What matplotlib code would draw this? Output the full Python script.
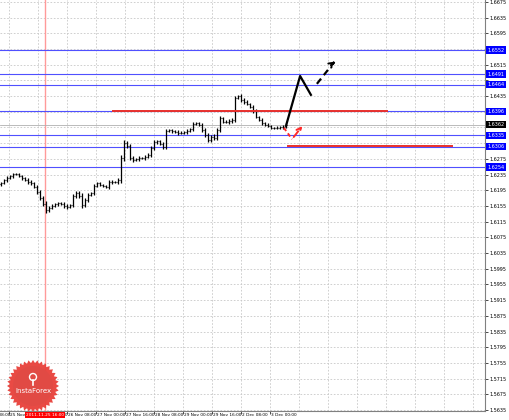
"""
GBPUSD H1 - grafik bar ala MT4 dengan level support/resistance dan proyeksi arah
"""

import numpy as np
import matplotlib.pyplot as plt
from matplotlib.patches import Polygon, Circle

# --- data harga (close per bar, open = close bar sebelumnya) ---
closes = [
    1.6213, 1.6221, 1.6226, 1.6231, 1.6236, 1.6236, 1.6231, 1.6226, 1.6221, 1.6216,
    1.6213, 1.6203, 1.6190, 1.6175, 1.6160, 1.6145, 1.6150, 1.6155, 1.6160, 1.6162,
    1.6160, 1.6155, 1.6152, 1.6157, 1.6180, 1.6188, 1.6180, 1.6157, 1.6170, 1.6183,
    1.6188, 1.6206, 1.6213, 1.6208, 1.6206, 1.6203, 1.6216, 1.6216, 1.6216, 1.6221,
    1.6277, 1.6315, 1.6308, 1.6277, 1.6272, 1.6274, 1.6277, 1.6277, 1.6280, 1.6285,
    1.6302, 1.6318, 1.6320, 1.6313, 1.6305, 1.6346, 1.6348, 1.6346, 1.6343, 1.6341,
    1.6341, 1.6343, 1.6346, 1.6351, 1.6364, 1.6366, 1.6361, 1.6348, 1.6336, 1.6323,
    1.6331, 1.6328, 1.6348, 1.6379, 1.6369, 1.6369, 1.6371, 1.6374, 1.6430, 1.6435,
    1.6425, 1.6420, 1.6415, 1.6407, 1.6397, 1.6382, 1.6374, 1.6366, 1.6361, 1.6359,
    1.6354, 1.6354, 1.6354, 1.6356, 1.6356, 1.6362,
]
# panjang ekor (pip) di atas/bawah badan bar
wicks = [
    4, 3, 5, 3, 4, 2, 3, 4, 3, 5,
    4, 3, 5, 6, 4, 7, 5, 4, 3, 4,
    3, 5, 4, 3, 6, 5, 4, 8, 5, 4,
    3, 5, 4, 3, 4, 3, 4, 5, 3, 6,
    8, 7, 6, 5, 4, 3, 4, 3, 5, 4,
    6, 5, 4, 3, 5, 4, 3, 4, 3, 5,
    4, 3, 4, 3, 5, 4, 3, 5, 6, 5,
    4, 6, 5, 4, 3, 4, 6, 5, 4, 3,
    4, 5, 4, 3, 5, 4, 3, 4, 3, 4,
    3, 3, 4, 3, 4, 3,
]

# level horizontal (biru) di sumbu kanan
blue_levels = [1.6552, 1.6491, 1.6464, 1.6396, 1.6335, 1.6306, 1.6254]

# garis merah: (bar awal, bar akhir, harga)
red_lines = [(37.3, 128.7, 1.6397), (95.7, 150.3, 1.6308)]

# proyeksi hitam (solid lalu putus-putus) dan skenario alternatif merah
proj_solid_x = [95.0, 99.7, 103.3]
proj_solid_y = [1.6359, 1.6486, 1.6438]
proj_dash_x = [105.3, 112.3]
proj_dash_y = [1.6466, 1.6527]
alt_x = [94.3, 97.0, 101.0]
alt_y = [1.6354, 1.6325, 1.6364]

# sumbu waktu
tick_idx = [-6.7, 2.7, 12.3, 22.0, 31.7, 41.3, 51.0, 60.7, 70.3, 80.0, 89.7]
tick_labels = ["24 Nov 08:00", "25 Nov 00:00", "25 Nov 16:00", "26 Nov 08:00",
               "27 Nov 00:00", "27 Nov 16:00", "28 Nov 08:00", "29 Nov 00:00",
               "29 Nov 16:00", "2 Dec 08:00", "3 Dec 00:00"]
marker_idx = 14.67
marker_label = "2011.11.25 16:00"

# skala harga sumbu kanan
price_ticks = [round(1.5635 + 0.004 * k, 4) for k in range(27)]

FS = 3.5   # font label harga
FSX = 3.1  # font label waktu

W, H = 510, 420
fig = plt.figure(figsize=(W / 100, H / 100), dpi=100)
fig.patch.set_facecolor("white")
ax = fig.add_axes([0, 9 / H, 485 / W, 411 / H])

ax.set_xlim(-0.333, 161.33)
ax.set_ylim(1.56325, 1.66796)

# grid putus-putus
grid_x = tick_idx[1:] + [tick_idx[-1] + 9.67 * k for k in range(1, 8)]
for gx in grid_x:
    ax.axvline(gx, color="#c8c8c8", lw=0.6, ls=(0, (2, 2)), zorder=0)
for gy in price_ticks:
    ax.axhline(gy, color="#c8c8c8", lw=0.6, ls=(0, (2, 2)), zorder=0)

# garis penanda waktu (merah muda)
ax.axvline(marker_idx, color="#ff9a9a", lw=1.0, zorder=1)

# level biru
for lv in blue_levels:
    ax.axhline(lv, color="#5050ff", lw=0.8, zorder=1)

# garis harga terakhir
ax.axhline(closes[-1], color="#b0b0b0", lw=0.6, zorder=1)

# bar OHLC
c = np.array(closes)
o = np.concatenate([[c[0] - 0.0003], c[:-1]])
w = np.array(wicks) / 10000.0
hi = np.maximum(o, c) + w
lo = np.minimum(o, c) - w
x = np.arange(len(c))
ax.vlines(x, lo, hi, color="black", lw=0.9, zorder=3)
ax.hlines(o, x - 0.45, x, color="black", lw=0.8, zorder=3)
ax.hlines(c, x, x + 0.45, color="black", lw=0.8, zorder=3)

# garis merah support/resistance
for x0, x1, pr in red_lines:
    ax.plot([x0, x1], [pr, pr], color="#e8302c", lw=1.4, zorder=4)

# proyeksi
ax.plot(proj_solid_x, proj_solid_y, color="black", lw=1.6, zorder=5)
ax.plot(proj_dash_x[:1] + [proj_dash_x[1] - 1.2], proj_dash_y[:1] + [proj_dash_y[1] - 0.0005],
        color="black", lw=1.6, ls=(0, (3, 2)), zorder=5)
ax.annotate("", xy=(proj_dash_x[1], proj_dash_y[1]),
            xytext=(proj_dash_x[1] - 3.0, proj_dash_y[1] - 0.0016),
            arrowprops=dict(arrowstyle="->", color="black", lw=1.4,
                            mutation_scale=9, linestyle="dashed"), zorder=5)
ax.plot(alt_x[:2], alt_y[:2], color="#ff2a2a", lw=1.4, ls=(0, (2, 1.5)), zorder=5)
ax.annotate("", xy=(alt_x[2], alt_y[2]), xytext=(alt_x[1], alt_y[1]),
            arrowprops=dict(arrowstyle="->", color="#ff2a2a", lw=1.4,
                            mutation_scale=8, linestyle="dashed"), zorder=5)

# sumbu
for s in ["left", "top"]:
    ax.spines[s].set_visible(False)
for s in ["right", "bottom"]:
    ax.spines[s].set_color("#808080")
    ax.spines[s].set_linewidth(0.8)

# label harga yang tertutup kotak level tidak perlu ditulis
box_levels = blue_levels + [closes[-1]]
tick_text = []
for p in price_ticks:
    tertutup = any(abs(p - b) < 0.0012 for b in box_levels)
    tick_text.append("" if tertutup else f"{p:.4f}")

ax.yaxis.tick_right()
ax.set_yticks(price_ticks)
ax.set_yticklabels(tick_text, fontsize=FS)
ax.tick_params(axis="y", length=2, width=0.5, pad=1.5, colors="black")

ax.set_xticks(tick_idx[1:])
ax.set_xticklabels([])
ax.tick_params(axis="x", length=2, width=0.5, colors="black")

xt = ax.get_xaxis_transform()
for ti, lab in zip(tick_idx, tick_labels):
    ax.text(ti + 0.3, -0.004, lab, transform=xt, fontsize=FSX, ha="left", va="top",
            clip_on=False)
ax.text(marker_idx, -0.004, marker_label, transform=xt, fontsize=FSX, ha="center",
        va="top", color="white", clip_on=False, zorder=10,
        bbox=dict(boxstyle="square,pad=0.25", facecolor="#ff0000", edgecolor="none"))

# label level di sumbu kanan
yt = ax.get_yaxis_transform()
for lv in blue_levels:
    ax.text(1.005, lv, f"{lv:.4f}", transform=yt, fontsize=FS, ha="left", va="center",
            color="white", clip_on=False, zorder=10,
            bbox=dict(boxstyle="square,pad=0.25", facecolor="#0000ff", edgecolor="none"))
ax.text(1.005, closes[-1], f"{closes[-1]:.4f}", transform=yt, fontsize=FS, ha="left",
        va="center", color="white", clip_on=False, zorder=10,
        bbox=dict(boxstyle="square,pad=0.25", facecolor="black", edgecolor="none"))

# logo InstaForex (lencana bergerigi)
ov = fig.add_axes([0, 0, 1, 1], zorder=20)
ov.set_xlim(0, W)
ov.set_ylim(H, 0)
ov.axis("off")
ov.patch.set_alpha(0)
cx, cy = 33, 386
n = 36
ang = np.linspace(0, 2 * np.pi, 2 * n, endpoint=False)
rad = np.where(np.arange(2 * n) % 2 == 0, 26.0, 23.0)
ov.add_patch(Polygon(np.c_[cx + rad * np.cos(ang), cy + rad * np.sin(ang)],
                     closed=True, facecolor="#e8403a", edgecolor="none", alpha=0.95))
ov.add_patch(Circle((cx, cy), 20, facecolor="#e14a44", edgecolor="none"))
ov.add_patch(Circle((cx, cy - 9), 3.5, facecolor="none", edgecolor="white", lw=1.0))
ov.plot([cx, cx], [cy - 6, cy - 1], color="white", lw=1.2)
ov.text(cx, cy + 5, "InstaForex", fontsize=5.0, color="white", ha="center", va="center")

plt.savefig("out.png", dpi=100)
plt.close()
